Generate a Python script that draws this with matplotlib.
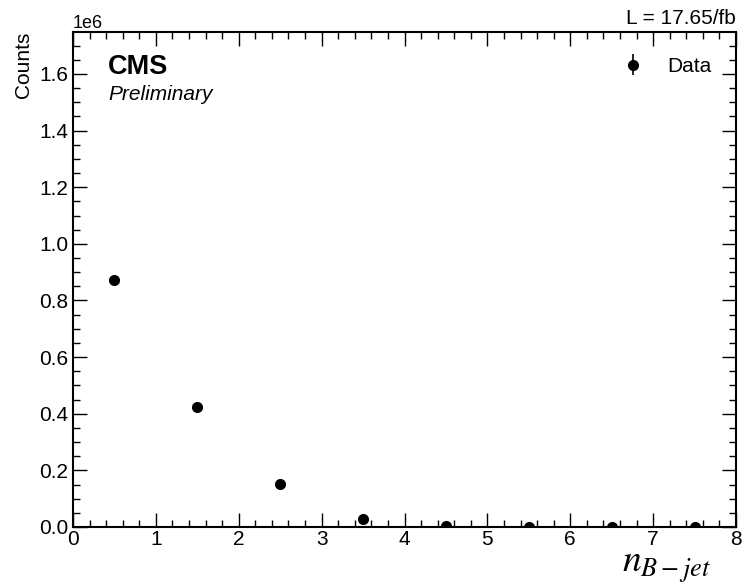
import numpy as np
import matplotlib
matplotlib.use("Agg")
import matplotlib.pyplot as plt
from matplotlib.ticker import MultipleLocator

# b-jet multiplicity, one bin per jet count
bin_edges = [0, 1, 2, 3, 4, 5, 6, 7, 8]
counts = [874000, 425000, 152000, 28000, 4200, 800, 180, 40]
lumi_label = "L = 17.65/fb"

plt.rcParams['font.family'] = ['Liberation Sans', 'DejaVu Sans']
plt.rcParams['mathtext.fontset'] = 'stix'

edges = np.array(bin_edges, dtype=float)
centers = 0.5 * (edges[1:] + edges[:-1])
vals = np.array(counts, dtype=float)

fig = plt.figure(figsize=(7.49, 5.84), dpi=100)
ax = fig.add_axes([73 / 749, 57 / 584, 663 / 749, 495 / 584])

ax.errorbar(centers, vals, yerr=np.sqrt(vals), fmt='o', color='black',
            markersize=7, elinewidth=1.2, label='Data')

ax.set_xlim(edges[0], edges[-1])
ax.set_ylim(0, 2 * vals.max())

ax.xaxis.set_major_locator(MultipleLocator(1))
ax.xaxis.set_minor_locator(MultipleLocator(0.2))
ax.yaxis.set_major_locator(MultipleLocator(0.2e6))
ax.yaxis.set_minor_locator(MultipleLocator(0.05e6))
ax.tick_params(which='both', direction='in', top=True, right=True, labelsize=15)
ax.tick_params(which='major', length=10, width=1)
ax.tick_params(which='minor', length=5, width=1)
ax.tick_params(axis='x', which='major', pad=2)
for sp in ax.spines.values():
    sp.set_linewidth(1.5)
ax.ticklabel_format(axis='y', style='sci', scilimits=(0, 0))
ax.yaxis.get_offset_text().set_fontsize(13)

ax.set_ylabel("Counts", fontsize=15, loc='top')
ax.set_xlabel(r"$n_{B-jet}$", fontsize=27, ha='right')
ax.xaxis.set_label_coords(0.962, -0.044)

ax.text(0.053, 0.955, "CMS", transform=ax.transAxes, fontsize=19.5,
        fontweight='bold', va='top')
ax.text(0.053, 0.893, "Preliminary", transform=ax.transAxes, fontsize=15,
        style='italic', va='top')
ax.text(1.0, 1.008, lumi_label, transform=ax.transAxes, fontsize=15,
        ha='right', va='bottom')

ax.legend(loc='upper right', frameon=False, fontsize=15, handletextpad=0.6,
          borderaxespad=0.8)

fig.savefig("out.png", dpi=100)
